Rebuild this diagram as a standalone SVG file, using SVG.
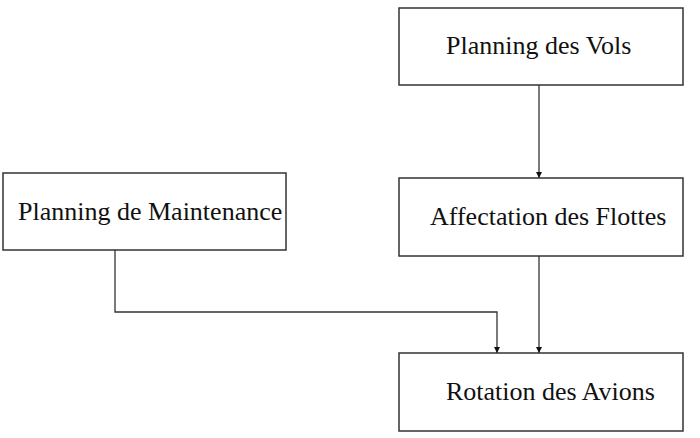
<svg xmlns="http://www.w3.org/2000/svg" width="700" height="438" viewBox="0 0 700 438">
<style>
.box{fill:#fff;stroke:#333;stroke-width:1.5}
.lbl{font-family:"Liberation Serif",serif;font-size:26px;fill:#111}
.con{fill:none;stroke:#333;stroke-width:1.3}
</style>
<defs>
<marker id="ah" markerWidth="6" markerHeight="8" refX="6" refY="4" orient="auto" markerUnits="userSpaceOnUse">
<path d="M0,1 L6,4 L0,7 Z" fill="#111"/>
</marker>
</defs>
<rect width="700" height="438" fill="#fff"/>
<g id="connectors">
<path class="con" d="M539,85 V178" marker-end="url(#ah)"/>
<path class="con" d="M539,256 V353" marker-end="url(#ah)"/>
<path class="con" d="M115,250 V312 H497 V353" marker-end="url(#ah)"/>
</g>
<g id="n1"><rect class="box" x="399" y="8" width="284" height="77"/><text class="lbl" x="446" y="54">Planning des Vols</text></g>
<g id="n2"><rect class="box" x="3" y="173" width="283" height="77"/><text class="lbl" x="18" y="220">Planning de Maintenance</text></g>
<g id="n3"><rect class="box" x="399" y="178" width="284" height="78"/><text class="lbl" x="430" y="225">Affectation des Flottes</text></g>
<g id="n4"><rect class="box" x="399" y="353" width="284" height="78"/><text class="lbl" x="446" y="400">Rotation des Avions</text></g>
</svg>
